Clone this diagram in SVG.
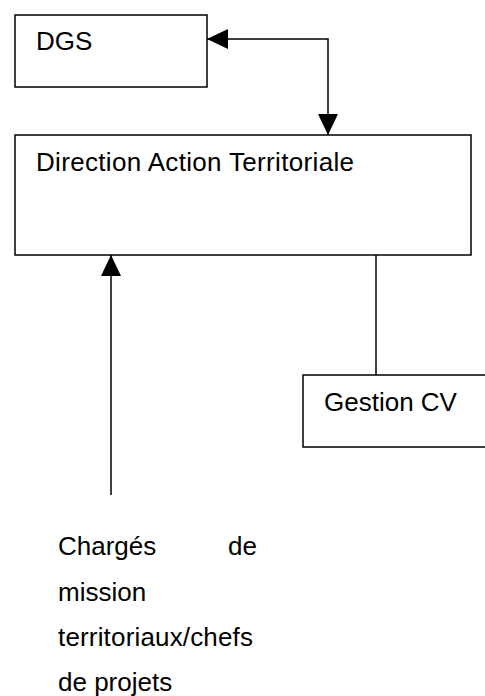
<svg xmlns="http://www.w3.org/2000/svg" width="485" height="696" viewBox="0 0 485 696">
  <style>
    .box { fill: #ffffff; stroke: #000000; stroke-width: 1.5; }
    .lbl { font-family: "Liberation Sans", Arial, sans-serif; font-size: 26px; fill: #000000; }
    .conn { fill: none; stroke: #000000; stroke-width: 1.5; }
  </style>
  <defs>
    <marker id="arrow" viewBox="0 0 21 20" refX="21" refY="10" markerWidth="21" markerHeight="20" markerUnits="userSpaceOnUse" orient="auto-start-reverse">
      <path d="M0,0 L21,10 L0,20 Z" fill="#000000"/>
    </marker>
  </defs>
  <rect width="485" height="696" fill="#ffffff"/>
  <g id="connectors">
    <path class="conn" d="M207,39 H328 V135" marker-start="url(#arrow)" marker-end="url(#arrow)"/>
    <path class="conn" d="M111,495 V255" marker-end="url(#arrow)"/>
    <path class="conn" d="M376,255 V375"/>
  </g>
  <g id="dgs">
    <rect class="box" x="15" y="15" width="192" height="72"/>
    <text class="lbl" x="36" y="50">DGS</text>
  </g>
  <g id="direction">
    <rect class="box" x="15" y="135" width="456" height="120"/>
    <text class="lbl" x="36" y="171" textLength="318" lengthAdjust="spacing">Direction Action Territoriale</text>
  </g>
  <g id="gestion">
    <rect class="box" x="303" y="375" width="190" height="72"/>
    <text class="lbl" x="324" y="411">Gestion CV</text>
  </g>
  <g id="charges">
    <text class="lbl" x="58" y="555">Chargés</text>
    <text class="lbl" x="257" y="555" text-anchor="end">de</text>
    <text class="lbl" x="58" y="601">mission</text>
    <text class="lbl" x="58" y="646" textLength="195" lengthAdjust="spacing">territoriaux/chefs</text>
    <text class="lbl" x="58" y="691">de projets</text>
  </g>
</svg>
